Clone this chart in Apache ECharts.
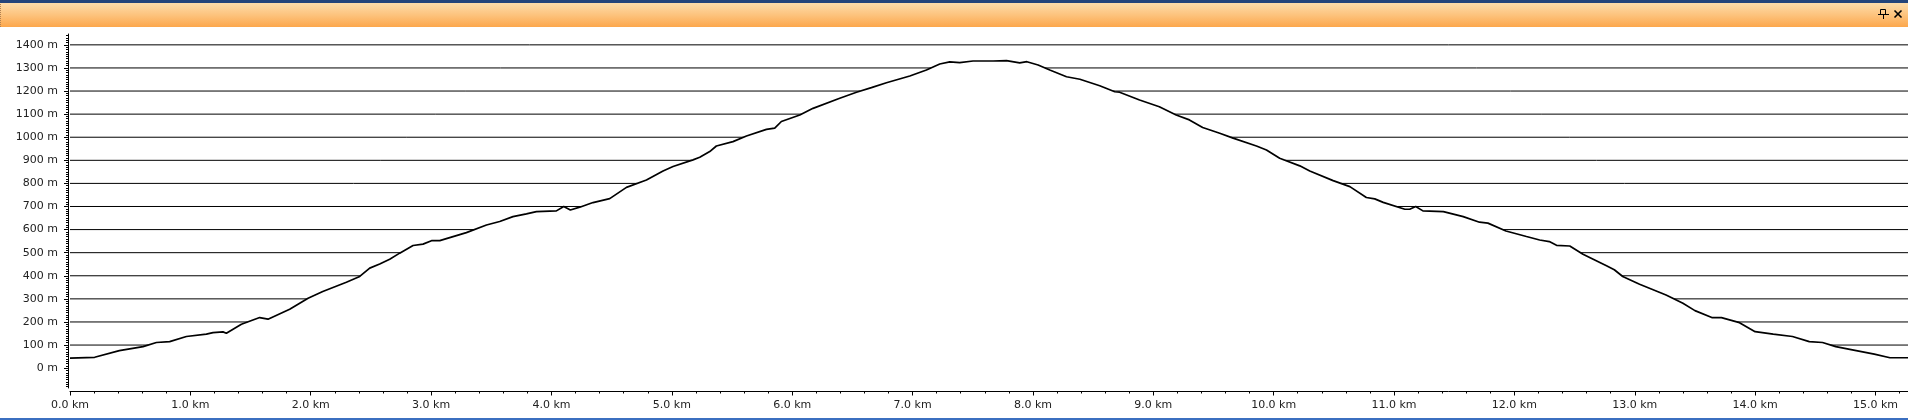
<!DOCTYPE html>
<html>
<head>
<meta charset="utf-8">
<title>Profile</title>
<script src="https://cdn.jsdelivr.net/npm/echarts@6/dist/echarts.min.js"></script>
<style>
  html, body { margin: 0; padding: 0; background: #fff; }
  #chart { width: 1908px; height: 420px; }
</style>
</head>
<body>
<div id="chart"></div>
<script>
// distance along the track (km) and elevation (m)
var distKm = [
  0, 0.205, 0.41, 0.607, 0.718, 0.828, 0.967, 1.133, 1.188, 1.271, 1.299, 1.424,
  1.576, 1.645, 1.825, 1.978, 2.10, 2.296, 2.407, 2.49, 2.573, 2.656, 2.739, 2.85,
  2.933, 3.003, 3.072, 3.293, 3.46, 3.57, 3.68, 3.792, 3.875, 4.041, 4.102, 4.157,
  4.235, 4.345, 4.484, 4.623, 4.789, 4.927, 5.01, 5.176, 5.232, 5.315, 5.37, 5.508,
  5.62, 5.786, 5.855, 5.91, 6.063, 6.173, 6.395, 6.534, 6.658, 6.783, 6.977, 7.115,
  7.226, 7.309, 7.392, 7.502, 7.669, 7.78, 7.89, 7.95, 8.043, 8.14, 8.279, 8.39,
  8.555, 8.68, 8.72, 8.886, 9.05, 9.19, 9.30, 9.41, 9.552, 9.663, 9.857, 9.94,
  10.05, 10.217, 10.30, 10.494, 10.633, 10.77, 10.84, 10.91, 11.09, 11.13, 11.18, 11.24,
  11.41, 11.575, 11.71, 11.78, 11.93, 12.10, 12.21, 12.29, 12.35, 12.46, 12.57, 12.765,
  12.83, 12.90, 13.04, 13.26, 13.40, 13.50, 13.64, 13.72, 13.87, 14.00, 14.15, 14.31,
  14.45, 14.56, 14.67, 14.84, 14.99, 15.12, 15.27
];
var elevM = [
  43, 47, 76, 93, 111, 115, 137, 147, 154, 157, 151, 190,
  219, 212, 255, 303, 332, 372, 397, 433, 451, 472, 498, 531,
  537, 552, 552, 587, 620, 635, 656, 668, 678, 681, 700, 685,
  697, 717, 734, 783, 815, 854, 873, 902, 913, 938, 962, 981,
  1005, 1034, 1039, 1068, 1096, 1125, 1169, 1195, 1215, 1236, 1265, 1291,
  1317, 1326, 1323, 1330, 1330, 1332, 1322, 1327, 1313, 1291, 1262, 1251,
  1223, 1197, 1195, 1161, 1132, 1096, 1075, 1042, 1017, 996, 962, 945,
  909, 876, 854, 812, 786, 739, 733, 718, 688, 688, 700, 681,
  678, 656, 632, 628, 594, 570, 555, 548, 532, 529, 493, 443,
  426, 397, 363, 317, 281, 249, 219, 219, 197, 158, 147, 137,
  115, 111, 93, 76, 61, 45, 45
];

// axis ticks
var yTicks = [0, 100, 200, 300, 400, 500, 600, 700, 800, 900, 1000, 1100, 1200, 1300, 1400];
var gridLevels = [100, 200, 300, 400, 500, 600, 700, 800, 900, 1000, 1100, 1200, 1300, 1400];
var xTicks = [0, 1, 2, 3, 4, 5, 6, 7, 8, 9, 10, 11, 12, 13, 14, 15];

var xMax = 15.27;
var yMin = -86, yMax = 1447;

var yMinorTicks = [];
for (var v = -80; v <= 1440; v += 10) yMinorTicks.push(v);
var xMinorTicks = [];
for (var k = 0; k <= 76; k++) xMinorTicks.push(Math.round(k * 2) / 10);

var profileData = distKm.map(function (d, i) { return [d, elevM[i]]; });

var font = "DejaVu Sans";
var txtColor = "#222";

// level lines are hidden under the profile: keep only the parts above the terrain
function visibleSpans(g) {
  var spans = [], start = null;
  for (var i = 0; i < distKm.length; i++) {
    var below = elevM[i] < g;
    if (i > 0) {
      var prevBelow = elevM[i - 1] < g;
      if (prevBelow !== below) {
        var t = (g - elevM[i - 1]) / (elevM[i] - elevM[i - 1]);
        var x = distKm[i - 1] + t * (distKm[i] - distKm[i - 1]);
        if (below) { start = x; } else { spans.push([start, x]); start = null; }
      }
    } else if (below) {
      start = distKm[0];
    }
  }
  if (start !== null) spans.push([start, xMax]);
  return spans;
}

var levelSeries = [];
gridLevels.forEach(function (g) {
  visibleSpans(g).forEach(function (s) {
    levelSeries.push({
      type: "line", xAxisIndex: 0, yAxisIndex: 0, z: 1, silent: true,
      data: [[s[0], g], [s[1], g]], showSymbol: false,
      lineStyle: { color: "#000", width: 1 }
    });
  });
});

function hiddenAxisParts() {
  return { splitLine: { show: false }, minorSplitLine: { show: false }, minorTick: { show: false }, splitArea: { show: false } };
}

var chart = echarts.init(document.getElementById("chart"));
chart.setOption({
  animation: false,
  backgroundColor: "#fff",
  title: {
    text: "Profile",
    left: 8,
    top: 9,
    textStyle: { fontFamily: font, fontSize: 11, fontWeight: "normal", color: "#000" }
  },
  graphic: [
    // top window edge
    { type: "rect", left: 0, top: 0, shape: { width: 1908, height: 3 }, style: { fill: "#24447a" }, z: 10 },
    // panel header
    {
      type: "rect", left: 0, top: 3, shape: { width: 1908, height: 24 }, z: 9,
      style: {
        fill: new echarts.graphic.LinearGradient(0, 0, 0, 1, [
          { offset: 0, color: "#fedcaa" },
          { offset: 0.5, color: "#fdc37d" },
          { offset: 1, color: "#fca74c" }
        ])
      }
    },
    { type: "line", shape: { x1: 0.5, y1: 4, x2: 0.5, y2: 27 }, style: { stroke: "#b08050", lineDash: [1, 1], lineWidth: 1 }, z: 11 },
    // pin icon
    { type: "rect", shape: { x: 1880.5, y: 9.5, width: 5, height: 5 }, style: { fill: "none", stroke: "#000", lineWidth: 1 }, z: 11 },
    { type: "line", shape: { x1: 1878, y1: 14.5, x2: 1889, y2: 14.5 }, style: { stroke: "#000", lineWidth: 1 }, z: 11 },
    { type: "line", shape: { x1: 1883.5, y1: 14.5, x2: 1883.5, y2: 19 }, style: { stroke: "#000", lineWidth: 1 }, z: 11 },
    // close icon
    { type: "line", shape: { x1: 1894.5, y1: 10.5, x2: 1901.5, y2: 17.5 }, style: { stroke: "#000", lineWidth: 1.6 }, z: 11 },
    { type: "line", shape: { x1: 1901.5, y1: 10.5, x2: 1894.5, y2: 17.5 }, style: { stroke: "#000", lineWidth: 1.6 }, z: 11 },
    // bottom window edge
    { type: "rect", left: 0, top: 418, shape: { width: 1908, height: 2 }, style: { fill: "#3b6fc0" }, z: 10 }
  ],
  grid: { left: 70, right: 0, top: 34, bottom: 32 },
  xAxis: [
    Object.assign({
      type: "value", min: 0, max: xMax, position: "bottom", offset: 3.5,
      axisLine: { show: true, onZero: false, lineStyle: { color: "#000", width: 1 } },
      axisTick: { show: true, length: 4, customValues: xTicks, lineStyle: { color: "#000" } },
      axisLabel: {
        customValues: xTicks, margin: 8,
        fontFamily: font, fontSize: 11, color: txtColor,
        formatter: function (v) { return v.toFixed(1) + " km"; }
      }
    }, hiddenAxisParts()),
    Object.assign({
      type: "value", min: 0, max: xMax, position: "bottom", offset: 3.5,
      axisLine: { show: false, onZero: false },
      axisTick: { show: true, length: 2, customValues: xMinorTicks, lineStyle: { color: "#000" } },
      axisLabel: { show: false }
    }, hiddenAxisParts())
  ],
  yAxis: [
    Object.assign({
      type: "value", min: yMin, max: yMax, position: "left", offset: 2,
      axisLine: { show: true, onZero: false, lineStyle: { color: "#000", width: 1 } },
      axisTick: { show: false },
      axisLabel: {
        customValues: yTicks, margin: 10,
        fontFamily: font, fontSize: 11, color: txtColor,
        formatter: function (v) { return String(v) + " m"; }
      }
    }, hiddenAxisParts()),
    Object.assign({
      type: "value", min: yMin, max: yMax, position: "left", offset: 2,
      axisLine: { show: false, onZero: false },
      axisTick: { show: true, length: 4, customValues: yTicks, lineStyle: { color: "#000" } },
      axisLabel: { show: false }
    }, hiddenAxisParts()),
    Object.assign({
      type: "value", min: yMin, max: yMax, position: "left", offset: 2,
      axisLine: { show: false, onZero: false },
      axisTick: { show: true, length: 2, customValues: yMinorTicks, lineStyle: { color: "#000" } },
      axisLabel: { show: false }
    }, hiddenAxisParts())
  ],
  series: levelSeries.concat([
    {
      type: "line", xAxisIndex: 0, yAxisIndex: 0, z: 5,
      data: profileData, showSymbol: false, smooth: false,
      lineStyle: { color: "#000", width: 1.7 }
    }
  ])
});
</script>
</body>
</html>
